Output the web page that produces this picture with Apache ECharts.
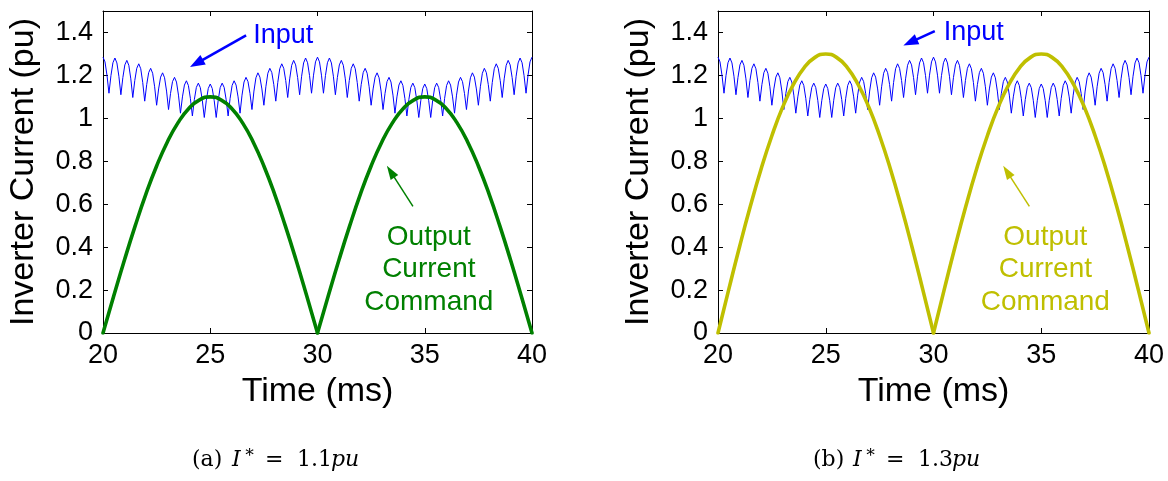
<!DOCTYPE html>
<html>
<head>
<meta charset="utf-8">
<script src="https://cdn.jsdelivr.net/npm/echarts@6/dist/echarts.min.js"></script>
<style>
  html, body { margin: 0; padding: 0; background: #ffffff; }
  #chart { width: 1168px; height: 481px; }
</style>
</head>
<body>
<div id="chart"></div>
<script>
// Inverter current: DC-side input ripple and the rectified output current command, 20–40 ms

// axis ranges / tick labels
const xTicks = [20, 25, 30, 35, 40];
const yTicks = [0, 0.2, 0.4, 0.6, 0.8, 1, 1.2, 1.4];
const yTop = 1.5;

// output current command samples (every 0.5 ms)
const commandTime = [
  20, 20.5, 21, 21.5, 22, 22.5, 23, 23.5, 24, 24.5,
  25, 25.5, 26, 26.5, 27, 27.5, 28, 28.5, 29, 29.5,
  30, 30.5, 31, 31.5, 32, 32.5, 33, 33.5, 34, 34.5,
  35, 35.5, 36, 36.5, 37, 37.5, 38, 38.5, 39, 39.5, 40
];
// (a) I* = 1.1 pu
const commandA = [
  0, 0.172, 0.340, 0.499, 0.647, 0.778, 0.890, 0.980, 1.046, 1.086,
  1.100, 1.086, 1.046, 0.980, 0.890, 0.778, 0.647, 0.499, 0.340, 0.172,
  0, 0.172, 0.340, 0.499, 0.647, 0.778, 0.890, 0.980, 1.046, 1.086,
  1.100, 1.086, 1.046, 0.980, 0.890, 0.778, 0.647, 0.499, 0.340, 0.172, 0
];
// (b) I* = 1.3 pu
const commandB = [
  0, 0.203, 0.402, 0.590, 0.764, 0.919, 1.052, 1.158, 1.236, 1.284,
  1.300, 1.284, 1.236, 1.158, 1.052, 0.919, 0.764, 0.590, 0.402, 0.203,
  0, 0.203, 0.402, 0.590, 0.764, 0.919, 1.052, 1.158, 1.236, 1.284,
  1.300, 1.284, 1.236, 1.158, 1.052, 0.919, 0.764, 0.590, 0.402, 0.203, 0
];

// input current, sampled every 20/216 ms starting at 20 ms (one ripple hump per row)
const inputStartMs = 20;
const inputStepMs = 20 / 216;
const inputCurrent = [
  1.285, 1.263, 1.201, 1.117, 1.199, 1.259,
  1.281, 1.258, 1.196, 1.110, 1.190, 1.249,
  1.270, 1.247, 1.184, 1.097, 1.176, 1.233,
  1.254, 1.231, 1.167, 1.080, 1.157, 1.213,
  1.233, 1.210, 1.147, 1.061, 1.137, 1.192,
  1.212, 1.189, 1.127, 1.041, 1.116, 1.171,
  1.191, 1.169, 1.108, 1.024, 1.100, 1.155,
  1.175, 1.153, 1.093, 1.011, 1.088, 1.144,
  1.164, 1.143, 1.084, 1.004, 1.082, 1.139,
  1.160, 1.139, 1.082, 1.004, 1.084, 1.143,
  1.164, 1.144, 1.088, 1.011, 1.093, 1.153,
  1.175, 1.155, 1.100, 1.024, 1.108, 1.169,
  1.191, 1.171, 1.116, 1.041, 1.127, 1.189,
  1.212, 1.192, 1.137, 1.061, 1.147, 1.210,
  1.233, 1.213, 1.157, 1.080, 1.167, 1.231,
  1.254, 1.233, 1.176, 1.097, 1.184, 1.247,
  1.270, 1.249, 1.190, 1.110, 1.196, 1.258,
  1.281, 1.259, 1.199, 1.117, 1.201, 1.263,
  1.285, 1.263, 1.201, 1.117, 1.199, 1.259,
  1.281, 1.258, 1.196, 1.110, 1.190, 1.249,
  1.270, 1.247, 1.184, 1.097, 1.176, 1.233,
  1.254, 1.231, 1.167, 1.080, 1.157, 1.213,
  1.233, 1.210, 1.147, 1.061, 1.137, 1.192,
  1.212, 1.189, 1.127, 1.041, 1.116, 1.171,
  1.191, 1.169, 1.108, 1.024, 1.100, 1.155,
  1.175, 1.153, 1.093, 1.011, 1.088, 1.144,
  1.164, 1.143, 1.084, 1.004, 1.082, 1.139,
  1.160, 1.139, 1.082, 1.004, 1.084, 1.143,
  1.164, 1.144, 1.088, 1.011, 1.093, 1.153,
  1.175, 1.155, 1.100, 1.024, 1.108, 1.169,
  1.191, 1.171, 1.116, 1.041, 1.127, 1.189,
  1.212, 1.192, 1.137, 1.061, 1.147, 1.210,
  1.233, 1.213, 1.157, 1.080, 1.167, 1.231,
  1.254, 1.233, 1.176, 1.097, 1.184, 1.247,
  1.270, 1.249, 1.190, 1.110, 1.196, 1.258,
  1.281, 1.259, 1.199, 1.117, 1.201, 1.263,
  1.285
];

const panels = [
  { command: commandA, color: '#008000', caption: '(a)', level: '1.1' },
  { command: commandB, color: '#bfbf00', caption: '(b)', level: '1.3' }
];

const FONT = "'Liberation Sans', Arial, Helvetica, sans-serif";
const SERIF = "'DejaVu Serif', 'Liberation Serif', serif";
const INPUT_BLUE = '#0000ff';

const inputPoints = inputCurrent.map((v, i) => [inputStartMs + i * inputStepMs, v]);

const grids = [
  { left: 103, right: 636, top: 11, bottom: 148 },
  { left: 718, right: 19, top: 11, bottom: 148 }
];

const xMin = xTicks[0], xMax = xTicks[xTicks.length - 1], xStep = xTicks[1] - xTicks[0];
const yMin = yTicks[0], yStep = yTicks[1] - yTicks[0];

const xAxes = [], yAxes = [], series = [];

panels.forEach((p, g) => {
  const axisLine = { show: true, onZero: false, lineStyle: { color: '#000', width: 1 } };
  const tick = { show: true, inside: true, length: 5, lineStyle: { color: '#000', width: 1 } };
  xAxes.push({
    type: 'value', gridIndex: g, position: 'bottom', min: xMin, max: xMax, interval: xStep,
    axisLine, axisTick: tick, splitLine: { show: false },
    axisLabel: { color: '#000', fontFamily: FONT, fontSize: 27, margin: 9 },
    name: 'Time (ms)', nameLocation: 'middle', nameGap: 42,
    nameTextStyle: { color: '#000', fontFamily: FONT, fontSize: 34 }
  });
  xAxes.push({
    type: 'value', gridIndex: g, position: 'top', min: xMin, max: xMax, interval: xStep,
    axisLine, axisTick: tick, splitLine: { show: false }, axisLabel: { show: false }
  });
  yAxes.push({
    type: 'value', gridIndex: g, position: 'left', min: yMin, max: yTop, interval: yStep,
    axisLine, axisTick: tick, splitLine: { show: false },
    axisLabel: { color: '#000', fontFamily: FONT, fontSize: 27, margin: 10, showMaxLabel: false },
    name: 'Inverter Current (pu)', nameLocation: 'middle', nameGap: 62,
    nameTextStyle: { color: '#000', fontFamily: FONT, fontSize: 34 }
  });
  yAxes.push({
    type: 'value', gridIndex: g, position: 'right', min: yMin, max: yTop, interval: yStep,
    axisLine, axisTick: tick, splitLine: { show: false }, axisLabel: { show: false }
  });

  const xi = g * 2, yi = g * 2;
  // arrow from label toward the curve; the head is centred on the second coordinate
  const inputArrow = g === 0
    ? [[{ coord: [26.67, 1.386] }, { coord: [24.36, 1.256] }]]
    : [[{ coord: [30.06, 1.406] }, { coord: [28.92, 1.354] }]];

  series.push({
    type: 'line', xAxisIndex: xi, yAxisIndex: yi, data: inputPoints,
    showSymbol: false, symbol: 'none', smooth: false, z: 2,
    lineStyle: { color: INPUT_BLUE, width: 1 },
    markLine: {
      silent: true, animation: false, symbol: ['none', 'triangle'], symbolSize: [11, 15],
      label: { show: false },
      lineStyle: { color: INPUT_BLUE, width: 2.6, type: 'solid' },
      itemStyle: { color: INPUT_BLUE },
      data: inputArrow
    }
  });

  const cmdPoints = commandTime.map((t, i) => [t, p.command[i]]);
  const mid = commandTime.indexOf(30);
  [cmdPoints.slice(0, mid + 1), cmdPoints.slice(mid)].forEach((part, k) => {
    series.push({
      type: 'line', xAxisIndex: xi, yAxisIndex: yi, data: part,
      showSymbol: false, symbol: 'none', smooth: 0.5, z: 3,
      lineStyle: { color: p.color, width: 3.6, cap: 'round', join: 'round' },
      markLine: k === 0 ? {
        silent: true, animation: false, symbol: ['none', 'triangle'], symbolSize: [9, 14],
        label: { show: false },
        lineStyle: { color: p.color, width: 1.5, type: 'solid' },
        itemStyle: { color: p.color },
        data: [[{ coord: [34.45, 0.590] }, { coord: [33.41, 0.752] }]]
      } : undefined
    });
  });
});

const chart = echarts.init(document.getElementById('chart'), null, { renderer: 'canvas' });
chart.setOption({
  animation: false,
  backgroundColor: '#ffffff',
  grid: grids,
  xAxis: xAxes,
  yAxis: yAxes,
  series: series
});

// text annotations anchored in data coordinates
const firstSeriesOf = [0, 3];
const toPx = (g, t, v) => chart.convertToPixel({ seriesIndex: firstSeriesOf[g] }, [t, v]);
const graphics = [];
const inputLabelAt = [[27.0, 1.384], [30.47, 1.398]];

panels.forEach((p, g) => {
  const ip = toPx(g, inputLabelAt[g][0], inputLabelAt[g][1]);
  graphics.push({
    type: 'text', x: ip[0], y: ip[1], silent: true,
    style: { text: 'Input', fill: INPUT_BLUE, font: '27px ' + FONT, textAlign: 'left', textVerticalAlign: 'middle' }
  });
  const op = toPx(g, 35.19, 0.295);
  graphics.push({
    type: 'text', x: op[0], y: op[1], silent: true,
    style: {
      text: 'Output\nCurrent\nCommand', fill: p.color, font: '28px ' + FONT,
      textAlign: 'center', textVerticalAlign: 'middle', lineHeight: 32.6
    }
  });
});

// sub-figure captions: (a) I* = 1.1pu, (b) I* = 1.3pu
const captionLeft = [192, 813];
panels.forEach((p, g) => {
  const x0 = captionLeft[g];
  const cy = 460;
  const parts = [
    { t: p.caption, dx: 0, style: '' },
    { t: 'I', dx: 40, style: 'italic ' },
    { t: '\u2217', dx: 52, style: '', size: 17, dy: -7 },
    { t: '=', dx: 73, style: '' },
    { t: p.level, dx: 105, style: '' },
    { t: 'pu', dx: 139, style: 'italic ' }
  ];
  parts.forEach(part => {
    graphics.push({
      type: 'text', x: x0 + part.dx, y: cy + (part.dy || 0), silent: true,
      style: {
        text: part.t, fill: '#000',
        font: part.style + (part.size || 22) + 'px ' + SERIF,
        textAlign: 'left', textVerticalAlign: 'middle'
      }
    });
  });
});

chart.setOption({ graphic: graphics });
</script>
</body>
</html>
